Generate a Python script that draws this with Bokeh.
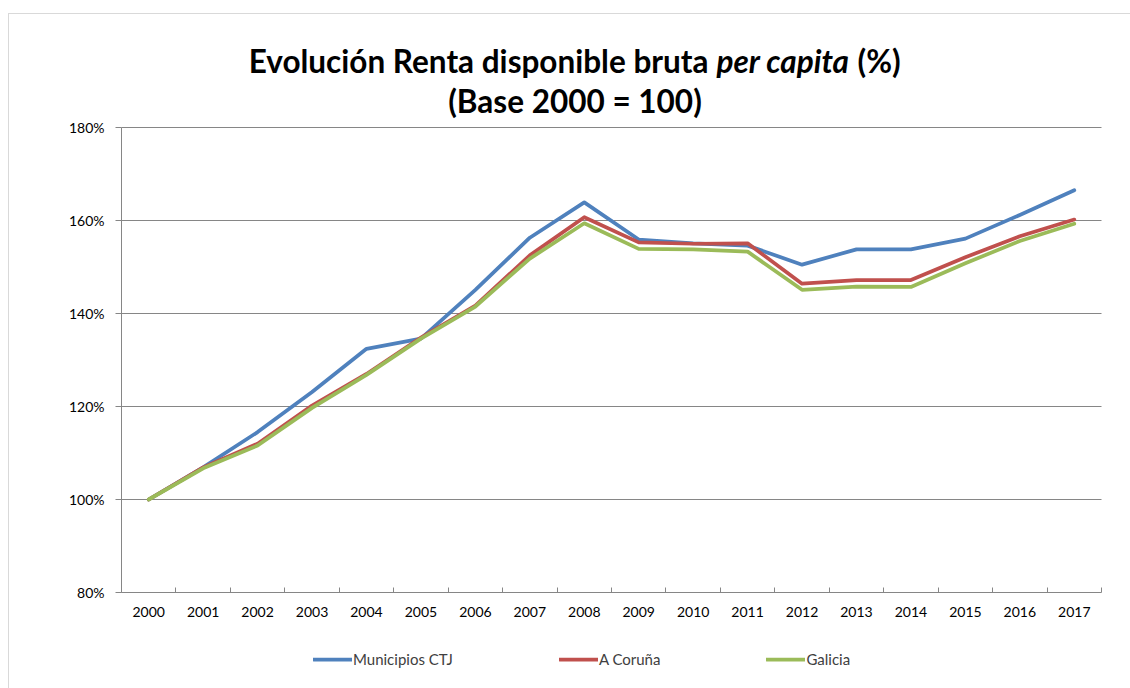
from bokeh.plotting import figure
from bokeh.models import (Range1d, FixedTicker, PrintfTickFormatter, Legend, LegendItem, Label)
from bokeh.embed import file_html
from bokeh.resources import INLINE

# ---- data ----
years = [2000, 2001, 2002, 2003, 2004, 2005, 2006, 2007, 2008,
         2009, 2010, 2011, 2012, 2013, 2014, 2015, 2016, 2017]
municipios_ctj = [100.0, 106.9, 114.5, 123.1, 132.4, 134.6, 145.1, 156.3, 163.9,
                  155.9, 155.1, 154.6, 150.5, 153.8, 153.8, 156.1, 161.2, 166.5]
a_coruna = [100.0, 106.9, 112.0, 120.2, 127.0, 134.8, 141.7, 152.5, 160.7,
            155.3, 155.0, 155.1, 146.4, 147.2, 147.2, 152.1, 156.6, 160.2]
galicia = [100.0, 106.7, 111.6, 119.7, 126.8, 134.6, 141.5, 151.8, 159.4,
           153.9, 153.8, 153.3, 145.1, 145.8, 145.7, 150.8, 155.6, 159.3]
y_ticks = [80, 100, 120, 140, 160, 180]
series_names = ["Municipios CTJ", "A Coruña", "Galicia"]
series_colors = ["#4F81BD", "#C0504D", "#9BBB59"]
title_line1 = ["Evolución Renta disponible bruta", "per capita", "(%)"]
title_line2 = "(Base 2000 = 100)"

FONT = "Lato"
GRAY = "#868686"

# ---- layout (pixels) ----
W, H = 1121, 674                 # canvas size
PL, PR, PT, PB = 112, 1092, 113, 578   # plot area inside canvas (left, right, top, bottom)
x0, x1 = years[0] - 0.5, years[-1] + 0.5
y0, y1 = y_ticks[0], y_ticks[-1]
xs = (x1 - x0) / (PR - PL)
ys = (y1 - y0) / (PB - PT)
x_range = Range1d(x0 - PL * xs, x1 + (W - PR) * xs)
y_range = Range1d(y0 - (H - PB) * ys, y1 + PT * ys)

p = figure(width=W, height=H, output_backend="svg", toolbar_location=None,
           x_range=x_range, y_range=y_range, min_border=0,
           background_fill_color="white", border_fill_color="white")
p.styles = {"margin-left": "9px", "margin-top": "14px", "outline": "1px solid #d9d9d9"}
p.outline_line_color = None
p.xgrid.visible = False
p.ygrid.visible = False

# horizontal gridlines across the plot area
p.segment(x0=[x0] * (len(y_ticks) - 1), y0=y_ticks[1:], x1=[x1] * (len(y_ticks) - 1),
          y1=y_ticks[1:], line_color=GRAY, line_width=1)

# x axis
xa = p.xaxis[0]
xa.fixed_location = y0
xa.bounds = (x0, x1)
xa.ticker = FixedTicker(ticks=years, minor_ticks=[y - 0.5 for y in years] + [x1])
xa.major_label_overrides = {y: str(y) for y in years}
xa.major_tick_in = 0
xa.major_tick_out = 0
xa.minor_tick_in = 5
xa.minor_tick_out = 0
xa.minor_tick_line_color = GRAY
xa.axis_line_color = GRAY
xa.major_label_text_font = FONT
xa.major_label_text_font_size = "14px"
xa.major_label_text_color = "black"
xa.major_label_standoff = 14

# y axis
ya = p.yaxis[0]
ya.fixed_location = x0
ya.bounds = (y0, y1)
ya.ticker = FixedTicker(ticks=y_ticks)
ya.formatter = PrintfTickFormatter(format="%d%%")
ya.major_tick_in = 0
ya.major_tick_out = 6
ya.major_tick_line_color = GRAY
ya.minor_tick_line_color = None
ya.axis_line_color = GRAY
ya.major_label_text_font = FONT
ya.major_label_text_font_size = "14px"
ya.major_label_text_color = "black"
ya.major_label_standoff = 11

renderers = []
for vals, col in zip([municipios_ctj, a_coruna, galicia], series_colors):
    r = p.line(years, vals, line_color=col, line_width=3.75, line_join="round", line_cap="round")
    renderers.append(r)

lg = Legend(items=[LegendItem(label=n, renderers=[r]) for n, r in zip(series_names, renderers)],
            location=(304, 19), orientation="horizontal", glyph_width=39, glyph_height=20,
            label_standoff=1, padding=0, margin=0, spacing=106,
            border_line_color=None, background_fill_alpha=0,
            label_text_font=FONT, label_text_font_size="15px",
            label_text_color="#404040")
p.add_layout(lg, "center")

# title (mixed bold / bold italic)
tkw = dict(x_units="screen", y_units="screen", text_font=FONT, text_font_size="31.5px",
           text_font_style="bold", text_color="black", text_baseline="alphabetic")
p.add_layout(Label(x=699, y=628, text=title_line1[0], text_align="right", **tkw))
tkw_i = dict(tkw)
tkw_i["text_font_style"] = "bold italic"
p.add_layout(Label(x=707, y=628, text=title_line1[1], text_align="left", **tkw_i))
p.add_layout(Label(x=848, y=628, text=title_line1[2], text_align="left", **tkw))
p.add_layout(Label(x=565.5, y=588, text=title_line2, text_align="center", **tkw))

open("out.html", "w").write(file_html(p, INLINE))
